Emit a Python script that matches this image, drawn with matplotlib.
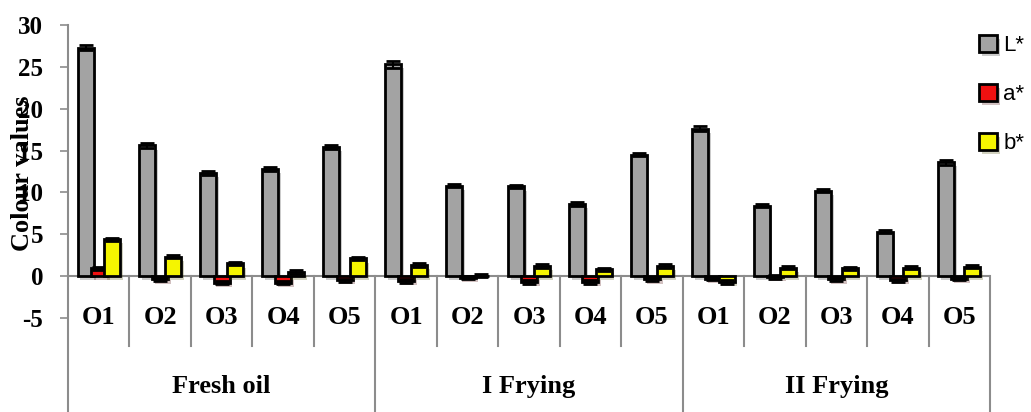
import matplotlib
matplotlib.use("Agg")
import matplotlib.pyplot as plt
import matplotlib.patheffects as pe
import numpy as np

plt.rcParams["axes.unicode_minus"] = False

# colour coordinates of the five oils at each stage
groups = ["Fresh oil", "I Frying", "II Frying"]
samples = ["O1", "O2", "O3", "O4", "O5"]
L_star = [27.3, 15.6, 12.3, 12.8, 15.4,
          25.3, 10.8, 10.7, 8.6, 14.5,
          17.6, 8.4, 10.2, 5.3, 13.6]
a_star = [0.9, -0.4, -0.8, -0.8, -0.5,
          -0.6, -0.2, -0.7, -0.7, -0.4,
          -0.3, -0.1, -0.4, -0.5, -0.3]
b_star = [4.4, 2.3, 1.5, 0.5, 2.1,
          1.3, 0.05, 1.2, 0.8, 1.2,
          -0.7, 1.0, 0.9, 1.0, 1.1]
L_err = [0.3, 0.3, 0.2, 0.2, 0.2, 0.4, 0.2, 0.2, 0.2, 0.2, 0.3, 0.2, 0.2, 0.2, 0.3]
a_err = [0.2] * 15
b_err = [0.2] * 15

serif = "Liberation Serif"
W, H = 1031, 412
fig = plt.figure(figsize=(W / 100, H / 100), dpi=100)
y_low = -16.25
ax = fig.add_axes([68 / W, 0, (990 - 68) / W, (H - 25) / H])
ax.set_ylim(y_low, 30)
ax.set_xlim(-0.5, 14.5)

x = np.arange(15)
shadow = [pe.SimplePatchShadow(offset=(2, -3), alpha=0.25), pe.Normal()]
series = [(L_star, L_err, "#a3a3a3", "L*"),
          (a_star, a_err, "#f01010", "a*"),
          (b_star, b_err, "#f5f500", "b*")]
handles = []
for i, (vals, err, col, name) in enumerate(series):
    pos = x + (i - 1) * 0.215
    bars = ax.bar(pos, vals, width=0.26, color=col, edgecolor="black",
                  linewidth=2, zorder=3 + i, label=name)
    for b in bars:
        b.set_path_effects(shadow)
    ax.errorbar(pos, vals, yerr=err, fmt="none", ecolor="black",
                elinewidth=1.5, capsize=5, capthick=2, zorder=3 + i)
    handles.append(bars)

grey = "#8c8c8c"
for s in ["top", "right", "bottom"]:
    ax.spines[s].set_visible(False)
ax.spines["left"].set_color(grey)
ax.spines["left"].set_linewidth(1.5)
ax.axhline(0, color=grey, lw=1.5, zorder=2)

ax.set_yticks([-5, 0, 5, 10, 15, 20, 25, 30])
ax.tick_params(axis="y", direction="out", length=6, width=1.2, color=grey, pad=12)
ax.set_xticks([])
for lab in ax.get_yticklabels():
    lab.set_fontfamily(serif)
    lab.set_fontweight("bold")
    lab.set_fontsize(18)

# two-level category axis
for k in range(15):
    ax.text(k, -5, samples[k % 5], ha="center", va="center",
            fontfamily=serif, fontweight="bold", fontsize=19)
for k in range(1, 15):
    if k % 5:
        ax.plot([k - 0.5, k - 0.5], [0, -8.4], color=grey, lw=1.5, clip_on=False)
for g in range(3):
    ax.plot([g * 5 + 4.5] * 2, [0, y_low], color=grey, lw=1.5, clip_on=False)
    ax.text(g * 5 + 2, -13.25, groups[g], ha="center", va="center",
            fontfamily=serif, fontweight="bold", fontsize=19)

fig.text(23 / W, 1 - 173 / H, "Colour values", rotation=90, ha="center",
         va="center", fontfamily=serif, fontweight="bold", fontsize=19)

ax.legend(handles=handles, loc="upper left", bbox_to_anchor=(979 / W, 1 - 35 / H),
          bbox_transform=fig.transFigure, frameon=False, handlelength=0.8,
          handleheight=0.8, handletextpad=0.3, labelspacing=1.25,
          borderpad=0, borderaxespad=0,
          prop={"family": "Liberation Sans", "size": 16})

fig.savefig("out.png", dpi=100)
